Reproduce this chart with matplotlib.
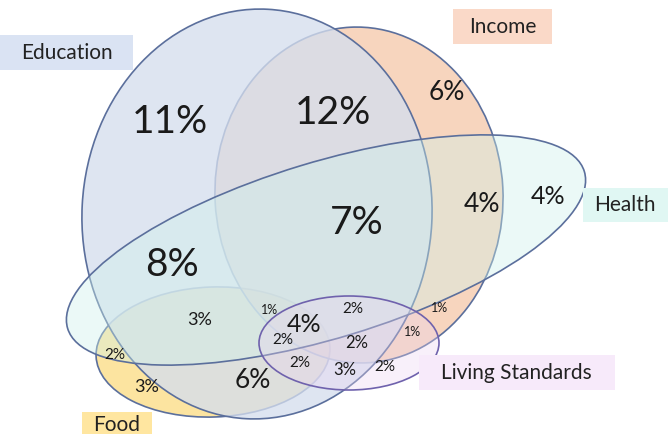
import matplotlib
matplotlib.use("Agg")
import matplotlib.pyplot as plt
from matplotlib.patches import Ellipse, Rectangle

plt.rcParams["font.family"] = ["Lato", "DejaVu Sans"]

# ── data ────────────────────────────────────────────────────────────────────
set_names = ["Food", "Income", "Education", "Health", "Living Standards"]

# percentage shown in each region of the diagram
region_values = [11, 12, 6, 7, 4, 4, 8, 3, 1, 4, 2, 2, 2, 1, 1, 2, 3, 2, 2, 3, 6]

# ── layout (pixel space, y downwards) ───────────────────────────────────────
# ellipse: centre, width, height, angle, face rgba, edge colour
ellipses = {
    "Food":             ((213, 352), 234, 130, -2, (250/255, 210/255, 97/255, 0.6), "#5b6f9c"),
    "Income":           ((359, 195), 288, 336, -3, (242/255, 185/255, 147/255, 0.6), "#5b6f9c"),
    "Education":        ((257, 214), 350, 410, 3, (213/255, 222/255, 238/255, 0.78), "#5b6f9c"),
    "Health":           ((326, 250), 540, 176, -16.9, (207/255, 242/255, 235/255, 0.4), "#5b6f9c"),
    "Living Standards": ((349, 343), 180, 94, 0, (235/255, 212/255, 241/255, 0.35), "#6f62ad"),
}

# label box: x0, y0, x1, y1, colour, text x, text y
label_boxes = {
    "Education":        (0, 35, 133, 70, "#dae3f3", 67, 53),
    "Income":           (453, 9, 552, 44, "#fad9c8", 503, 27),
    "Health":           (583, 188, 668, 222, "#e0f7f3", 625, 205),
    "Living Standards": (419, 355, 615, 390, "#f7eafa", 516, 373),
    "Food":             (82, 412, 152, 450, "#ffe6a0", 117, 425),
}

# region label positions and font sizes, same order as region_values
region_pos = [
    (170, 122, 28), (333, 113, 28), (447, 92, 19), (357, 223, 28),
    (482, 204, 19), (548, 196, 18), (172, 265, 28), (200, 320, 13),
    (270, 310, 9), (304, 325, 18), (283, 340, 11), (353, 309, 11),
    (357, 343, 12), (440, 308, 9), (413, 332, 9), (385, 367, 11),
    (345, 370, 12), (300, 363, 11), (115, 355, 11), (147, 387, 13),
    (253, 380, 19),
]

W, H = 671, 434
fig = plt.figure(figsize=(W / 100, H / 100), dpi=100)
ax = fig.add_axes([0, 0, 1, 1])
ax.set_xlim(0, W)
ax.set_ylim(H, 0)
ax.axis("off")

for name in set_names:
    (cx, cy), w, h, ang, face, edge = ellipses[name]
    ax.add_patch(Ellipse((cx, cy), w, h, angle=ang, facecolor=face,
                         edgecolor=edge, linewidth=1.2))

for name, (x0, y0, x1, y1, col, tx, ty) in label_boxes.items():
    ax.add_patch(Rectangle((x0, y0), x1 - x0, y1 - y0, facecolor=col,
                           edgecolor="none"))
    ax.text(tx, ty, name, ha="center", va="center", fontsize=15,
            color="#222222")

for val, (x, y, fs) in zip(region_values, region_pos):
    ax.text(x, y, f"{val}%", ha="center", va="center", fontsize=fs,
            color="#1a1a1a")

fig.savefig("out.png", dpi=100)
